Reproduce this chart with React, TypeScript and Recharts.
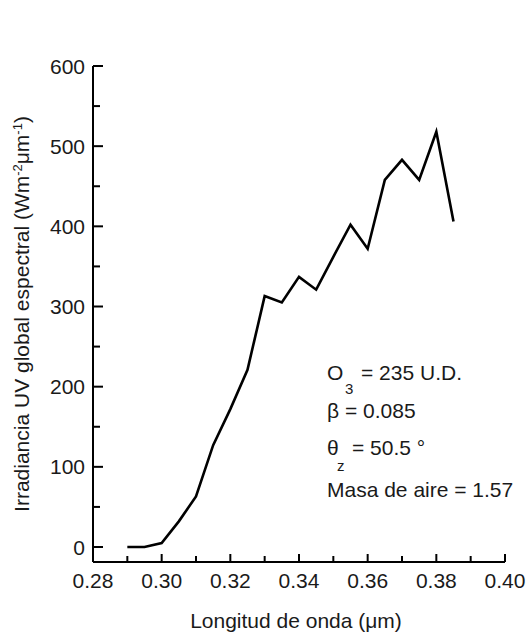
import { LineChart, Line, XAxis, YAxis } from 'recharts';

// spectral UV irradiance
const wavelength = [0.29, 0.295, 0.3, 0.305, 0.31, 0.315, 0.32, 0.325, 0.33, 0.335, 0.34, 0.345, 0.35, 0.355, 0.36, 0.365, 0.37, 0.375, 0.38, 0.385];
const irradiance = [0, 0, 5, 32, 63, 127, 172, 221, 313, 305, 337, 321, 362, 402, 372, 458, 483, 458, 518, 406];

const xTicks = [0.28, 0.29, 0.3, 0.31, 0.32, 0.33, 0.34, 0.35, 0.36, 0.37, 0.38, 0.39, 0.4];
const xLabels = [0.28, 0.3, 0.32, 0.34, 0.36, 0.38, 0.4];
const yTicks = [0, 50, 100, 150, 200, 250, 300, 350, 400, 450, 500, 550, 600];
const yLabels = [0, 100, 200, 300, 400, 500, 600];

const data = wavelength.map((wl, i) => ({ wl, value: irradiance[i] }));

const font = '"Liberation Sans", Arial, sans-serif';

const XTick = ({ x, y, payload }: any) => {
  const major = xLabels.some((v) => Math.abs(v - payload.value) < 1e-6);
  return (
    <g>
      <line x1={x} x2={x} y1={y} y2={y - (major ? 8 : 6)} stroke="#000" strokeWidth={2} />
      {major && (
        <text x={x} y={y + 26} textAnchor="middle" fontSize={21} fontFamily={font} fill="#1a1a1a">
          {payload.value.toFixed(2)}
        </text>
      )}
    </g>
  );
};

const YTick = ({ x, y, payload }: any) => {
  const major = yLabels.includes(payload.value);
  const ax = x + 8;
  return (
    <g>
      <line x1={ax} x2={ax + (major ? 10 : 7)} y1={y} y2={y} stroke="#000" strokeWidth={2} />
      {major && (
        <text x={x} y={y} textAnchor="end" dominantBaseline="central" fontSize={21} fontFamily={font} fill="#1a1a1a">
          {payload.value}
        </text>
      )}
    </g>
  );
};

export default function App() {
  return (
    <div style={{ position: 'absolute', left: 0, top: 0, width: 527, height: 633, background: '#fff' }}>
      <LineChart width={527} height={633} data={data} margin={{ top: 66, right: 22, left: 0, bottom: 0 }}>
        <XAxis
          type="number"
          dataKey="wl"
          domain={[0.28, 0.4]}
          ticks={xTicks}
          interval={0}
          height={71}
          tickSize={0}
          tickMargin={0}
          tickLine={false}
          axisLine={{ stroke: '#000', strokeWidth: 2 }}
          tick={<XTick />}
        />
        <YAxis
          type="number"
          domain={[-18.7, 600]}
          ticks={yTicks}
          interval={0}
          width={93}
          tickSize={0}
          tickMargin={8}
          tickLine={false}
          axisLine={{ stroke: '#000', strokeWidth: 2 }}
          tick={<YTick />}
        />
        <Line
          type="linear"
          dataKey="value"
          stroke="#000"
          strokeWidth={2.6}
          dot={false}
          isAnimationActive={false}
        />
      </LineChart>

      <svg width={527} height={633} style={{ position: 'absolute', left: 0, top: 0, pointerEvents: 'none' }} fontFamily={font} fill="#1a1a1a">
        <text transform="translate(29, 314) rotate(-90)" textAnchor="middle" fontSize={21}>
          Irradiancia UV global espectral (Wm
          <tspan fontSize={13} dy={-7}>-2</tspan>
          <tspan dy={7}>μm</tspan>
          <tspan fontSize={13} dy={-7}>-1</tspan>
          <tspan dy={7}>)</tspan>
        </text>
        <text x={296} y={628} textAnchor="middle" fontSize={21}>
          Longitud de onda (μm)
        </text>

        <g fontSize={21}>
          <text x={327} y={380}>O</text>
          <text x={345} y={394} fontSize={15}>3</text>
          <text x={361} y={380}>= 235 U.D.</text>
          <text x={327} y={418}>β = 0.085</text>
          <text x={327} y={455}>θ</text>
          <text x={337} y={471} fontSize={15}>z</text>
          <text x={352} y={455}>= 50.5 °</text>
          <text x={327} y={497}>Masa de aire = 1.57</text>
        </g>
      </svg>
    </div>
  );
}
